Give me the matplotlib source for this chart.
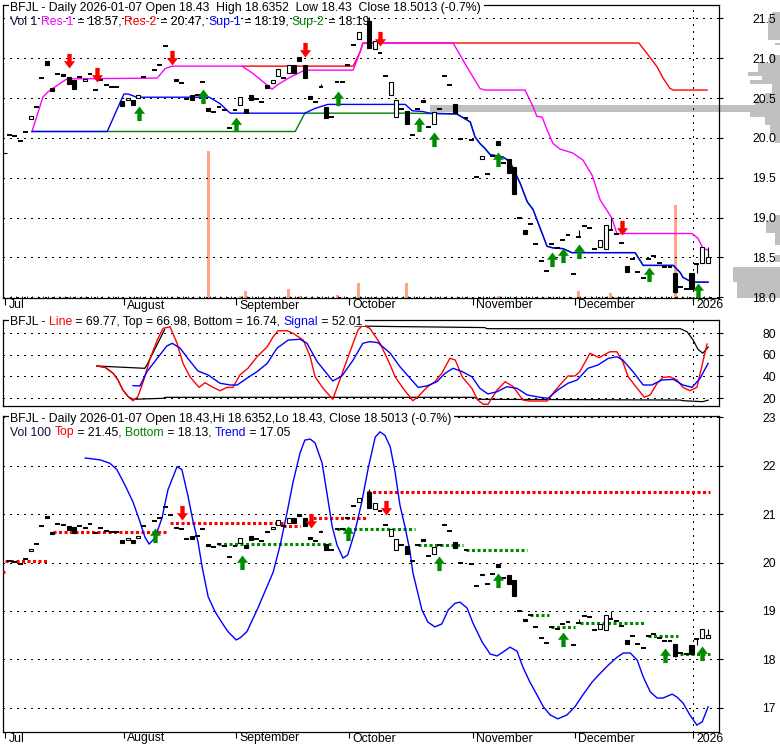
import numpy as np
import matplotlib
matplotlib.use("Agg")
import matplotlib.pyplot as plt
from matplotlib.path import Path
from matplotlib.patches import Rectangle
import matplotlib.transforms as mtrans

nan = np.nan

# ------------------------------------------------------------------ data
months = ["Jul", "August", "September", "October", "November", "December", "2026"]
month_first_day = [0, 22, 43, 64, 87, 106, 128]

open_ = [20.04, 20.02, 19.96, 20.07, 20.24, 20.39, 20.75, 20.96, 20.63, 20.80,
         20.80, 20.76, 20.73, 20.76, 20.71, 20.80, 20.60, 20.72, 20.66, 20.64,
         20.64, 20.46, 20.47, 20.47, 20.50, 20.76, nan, 20.85, 20.91, 21.15,
         20.99, 20.74, 20.69, 20.49, 20.54, 20.54, 20.70, 20.38, 20.32, 20.39,
         20.35, 20.12, 20.35, 20.41, 20.36, 20.54, 20.49, 20.45, 20.66, 20.69,
         20.78, 20.75, 20.81, 20.92, 21.01, 20.91, 20.52, 20.45, 20.64, 20.39,
         20.26, 20.70, 20.70, 20.91, 21.17, 21.24, nan, 21.46, 21.11, 21.06,
         20.77, 20.54, 20.26, 20.36, 20.34, 20.04, 20.36, 20.48, 20.14, 20.18,
         20.36, 20.78, 20.66, 20.43, 19.98, 20.25, 19.97, 19.51, 19.74, 19.55,
         19.77, 19.96, 19.68, 19.74, 19.63, 19.00, 18.84, 18.92, 18.67, 18.45,
         18.33, 18.67, 18.62, 18.72, 18.78, 18.29, 18.76, 18.90, 18.87, 18.61,
         18.63, 18.61, 18.84, 18.79, 18.68, 18.39, 18.48, 18.32, 18.24, 18.48,
         18.52, 18.43, 18.38, 18.38, 18.31, 18.13, 18.11, 18.30, 18.42, 18.43,
         18.43]
close = [20.04, 20.02, 19.96, 20.07, 20.28, 20.39, 20.75, 20.92, 20.59, 20.80,
         20.77, 20.68, 20.61, 20.76, 20.74, 20.80, 20.60, 20.72, 20.66, 20.64,
         20.64, 20.40, 20.50, 20.41, 20.54, 20.76, nan, 20.85, 20.91, 21.15,
         20.99, 20.71, 20.69, 20.49, 20.48, 20.54, 20.70, 20.34, 20.32, 20.39,
         20.35, 20.12, 20.35, 20.51, 20.31, 20.47, 20.49, 20.45, 20.62, 20.73,
         20.87, 20.75, 20.91, 20.82, 20.96, 20.75, 20.49, 20.45, 20.64, 20.25,
         20.26, 20.70, 20.70, 20.91, 21.17, 21.33, nan, 21.13, 21.22, 21.06,
         20.77, 20.70, 20.48, 20.36, 20.17, 20.04, 20.36, 20.45, 20.14, 20.32,
         20.36, 20.78, 20.66, 20.31, 19.98, 20.25, 19.97, 19.51, 19.77, 19.55,
         19.77, 19.91, 19.68, 19.56, 19.30, 19.00, 18.80, 18.92, 18.67, 18.45,
         18.33, 18.67, 18.62, 18.72, 18.78, 18.29, 18.76, 18.90, 18.87, 18.61,
         18.72, 18.91, 18.84, 18.79, 18.68, 18.32, 18.48, 18.32, 18.24, 18.48,
         18.52, 18.43, 18.38, 18.38, 18.07, 18.13, 18.11, 18.10, 18.42, 18.63,
         18.5013]
high_wick = {58: 20.67, 67: 21.52, 106: 18.84, 111: 18.91, 112: 18.99, 129: 18.63, 130: 18.6352}
low_wick = {124: 18.05, 128: 18.30}
volume = {8: 100, 10: 100, 11: 100, 14: 100, 21: 100, 23: 100, 24: 100, 37: 14700,
          43: 250, 44: 700, 47: 100, 52: 950, 54: 250, 61: 300, 65: 1550, 67: 100,
          74: 1550, 91: 250, 106: 750, 111: 100, 112: 500, 113: 100, 124: 9300, 127: 100}

# support / resistance (panel 1)
res1_d = [4.2, 6.2, 7.2, 8.5, 9.8, 10.7, 27.5, 29.0, 30.3, 43.3, 45.3, 48.0, 48.9, 49.8, 52.2,
          55.0, 64.0, 65.3, 65.8, 82.6, 85.2, 87.6, 88.5, 96.0, 97.5, 98.2, 99.2, 100.1, 101.2,
          102.5, 104.9, 106.8, 108.5, 110.0, 112.2, 113.1, 127.1, 128.2, 129.1, 130.1]
res1_v = [20.08, 20.51, 20.58, 20.64, 20.70, 20.74, 20.75, 20.87, 20.90, 20.90, 20.81, 20.66,
          20.61, 20.66, 20.76, 20.85, 20.85, 21.08, 21.19, 21.19, 20.89, 20.62, 20.60, 20.60,
          20.39, 20.27, 20.26, 20.10, 19.93, 19.86, 19.81, 19.72, 19.53, 19.22, 18.99, 18.80,
          18.80, 18.74, 18.62, 18.59]
res2_d = [43.3, 64.0, 65.3, 65.8, 117.2, 118.7, 120.6, 121.7, 123.0, 123.6, 129.9]
res2_v = [20.90, 20.90, 21.08, 21.19, 21.19, 21.06, 20.89, 20.75, 20.62, 20.60, 20.60]
sup1_d = [4.2, 18.2, 21.3, 22.1, 23.7, 37.2, 39.2, 41.1, 55.0, 56.9, 59.3, 73.7, 75.0, 77.0,
          78.3, 83.3, 85.8, 86.7, 87.6, 88.5, 89.5, 91.9, 93.2, 95.1, 96.4, 97.5, 100.1, 101.2,
          103.1, 104.7, 116.5, 118.0, 123.6, 124.9, 125.4, 127.1, 130.1]
sup1_v = [20.08, 20.08, 20.55, 20.55, 20.51, 20.51, 20.43, 20.31, 20.31, 20.37, 20.42, 20.42,
          20.34, 20.33, 20.31, 20.30, 20.20, 20.01, 19.93, 19.87, 19.79, 19.76, 19.70, 19.43,
          19.20, 19.10, 18.64, 18.62, 18.61, 18.56, 18.56, 18.40, 18.40, 18.31, 18.25, 18.19,
          18.19]
sup2_d = [4.2, 53.2, 55.0, 73.8, 83.3, 85.8, 86.7, 87.6, 88.5, 89.5, 91.9, 93.2, 95.1, 96.4,
          97.5, 100.1, 101.2, 103.1, 104.7, 116.5, 118.0, 123.6, 124.9, 125.4, 127.1, 130.1]
sup2_v = [20.08, 20.08, 20.31, 20.31, 20.30, 20.20, 20.01, 19.93, 19.87, 19.79, 19.76, 19.70,
          19.43, 19.20, 19.10, 18.64, 18.62, 18.61, 18.56, 18.56, 18.40, 18.40, 18.31, 18.25,
          18.19, 18.19]
p1_down_d = [11.1, 16.3, 30.3, 55.0, 69.0, 114.1]
p1_down_v = [20.88, 20.70, 20.91, 21.01, 21.15, 18.78]
p1_up_d = [24.1, 36.0, 42.2, 61.2, 76.3, 79.1, 91.0, 101.0, 103.1, 106.1, 119.1, 128.2]
p1_up_v = [20.40, 20.61, 20.26, 20.59, 20.26, 20.07, 19.82, 18.57, 18.62, 18.67, 18.38, 18.18]

# volume-at-price profile
profile_lo = [21.50, 21.23, 21.16, 20.94, 20.83, 20.78, 20.73, 20.68, 20.56, 20.47, 20.41,
              20.32, 20.26, 20.16, 20.04, 19.94, 18.97, 18.81, 18.66, 18.44, 18.19, 17.99]
profile_hi = [21.58, 21.50, 21.19, 21.04, 20.94, 20.83, 20.78, 20.73, 20.68, 20.56, 20.47,
              20.41, 20.32, 20.26, 20.16, 20.04, 19.03, 18.97, 18.81, 18.53, 18.38, 18.19]
profile_vol = [800, 1200, 500, 1000, 2200, 3200, 1800, 3000, 800, 1500, 2500,
               35000, 3000, 1500, 1000, 500, 500, 1400, 500, 500, 4700, 4300]

# oscillator (panel 2)
line_d = [16.3, 17.8, 19.3, 20.2, 21.1, 22.1, 23.0, 23.9, 24.9, 26.2, 27.5, 28.6, 29.9, 31.2,
          32.3, 33.6, 35.3, 36.4, 37.7, 39.2, 40.5, 41.6, 42.9, 44.4, 46.1, 48.0, 49.1, 50.0,
          51.7, 52.8, 54.7, 56.0, 56.9, 58.4, 60.2, 61.5, 63.4, 64.9, 65.8, 67.1, 69.0, 70.9,
          71.8, 73.3, 75.1, 76.1, 77.7, 79.2, 80.5, 82.0, 83.0, 84.3, 86.1, 87.2, 88.2, 89.1,
          90.8, 92.3, 93.8, 95.6, 96.9, 100.1, 101.2, 102.5, 104.0, 105.3, 106.2, 108.1, 109.8,
          111.8, 113.1, 114.2, 115.2, 116.9, 118.2, 119.3, 120.6, 121.7, 123.0, 124.3, 125.4,
          126.7, 128.0, 128.9, 129.9]
line_v = [49.5, 48.3, 42.8, 36.6, 27.4, 21.2, 17.5, 21.2, 35.0, 56.6, 73.5, 84.3, 85.8, 70.5,
          52.0, 39.6, 29.8, 34.1, 30.4, 26.7, 29.8, 29.8, 41.2, 47.4, 58.1, 67.3, 76.6, 82.1,
          82.1, 79.7, 73.5, 58.1, 39.6, 28.9, 18.8, 36.6, 62.7, 82.8, 87.4, 84.3, 70.5, 50.5,
          39.6, 28.9, 17.5, 21.2, 29.8, 35.0, 42.8, 56.6, 55.1, 39.6, 28.9, 18.1, 14.2, 14.2,
          27.4, 35.0, 30.4, 18.1, 17.2, 17.2, 24.3, 32.0, 40.3, 40.3, 44.3, 61.3, 57.2, 62.7,
          62.7, 53.5, 39.6, 28.9, 20.6, 22.8, 33.6, 39.1, 39.6, 36.6, 29.8, 26.7, 29.8, 48.9,
          69.8]
signal_d = [23.0, 24.3, 25.6, 27.5, 29.3, 30.3, 31.8, 33.2, 35.1, 37.0, 39.2, 41.1, 42.4, 44.2,
            46.1, 48.0, 49.8, 51.9, 54.1, 55.4, 57.3, 58.8, 60.2, 61.9, 64.0, 65.8, 67.1, 68.6,
            70.9, 72.7, 74.6, 76.1, 77.7, 79.6, 81.1, 82.6, 84.3, 86.1, 87.6, 89.1, 90.8, 92.6,
            94.5, 96.4, 98.8, 100.3, 102.1, 104.0, 105.7, 107.7, 109.6, 111.5, 113.1, 114.2,
            116.1, 118.0, 119.6, 121.5, 123.6, 125.4, 127.1, 128.6, 130.1]
signal_v = [31.4, 31.1, 44.3, 56.6, 68.0, 70.5, 65.9, 56.6, 44.9, 41.2, 33.6, 32.0, 32.0, 38.2,
            44.3, 52.0, 65.9, 73.5, 74.2, 70.5, 53.5, 44.3, 35.7, 40.3, 55.1, 70.5, 72.0, 71.1,
            61.3, 48.9, 38.2, 29.8, 31.1, 35.0, 42.8, 47.4, 44.3, 39.6, 28.9, 23.7, 25.8, 30.4,
            28.9, 22.8, 20.6, 19.7, 27.4, 33.6, 36.6, 47.4, 50.5, 56.6, 58.1, 55.1, 44.3, 32.0,
            32.0, 36.6, 37.2, 32.0, 29.8, 38.2, 52.0]
band_top_d = [16.3, 25.2, 25.6, 28.9, nan, 64.3, 70.9, 88.5, 88.9, 124.9, 126.2, 127.3, 128.2,
              129.1, 130.1]
band_top_v = [49.5, 47.4, 50.5, 83.4, nan, 86.5, 86.0, 85.0, 84.0, 84.0, 81.0, 73.5, 65.0,
              61.3, 67.0]
band_bot_d = [16.3, 17.8, 19.3, 20.2, 21.1, 22.1, 23.0, 28.6, 29.0, 86.6, 87.2, 124.9, 125.4,
              129.1, 130.1]
band_bot_v = [49.5, 48.3, 42.8, 36.6, 27.4, 21.2, 18.8, 19.7, 20.6, 20.6, 18.8, 18.1, 17.5,
              16.6, 18.0]

# trend panel (panel 3)
trend_d = [14.1, 16.9, 18.7, 20.0, 21.5, 23.0, 24.3, 25.2, 26.0, 27.1, 28.4, 29.5, 31.2, 32.1,
           33.2, 34.2, 35.1, 35.9, 37.0, 38.3, 39.6, 40.7, 42.2, 42.9, 44.2, 46.1, 48.1, 49.1,
           50.4, 51.7, 52.8, 54.1, 55.0, 56.0, 56.9, 58.2, 59.1, 60.1, 61.0, 62.1, 63.0, 64.3,
           65.6, 66.8, 68.1, 69.0, 69.9, 70.9, 71.8, 72.7, 73.7, 74.6, 75.1, 75.9, 76.8, 77.9,
           79.2, 80.5, 81.7, 83.0, 83.9, 85.2, 86.3, 88.0, 89.5, 90.8, 91.9, 93.2, 94.5, 95.6,
           96.9, 98.2, 99.4, 100.7, 102.1, 103.8, 105.3, 106.8, 108.5, 110.0, 111.5, 113.1, 114.3,
           115.6, 116.9, 118.0, 119.3, 120.6, 121.7, 123.4, 124.3, 125.4, 126.7, 128.0, 129.0,
           130.1]
trend_v = [22.16, 22.12, 22.05, 21.92, 21.60, 21.25, 20.84, 20.53, 20.38, 20.51, 20.92, 21.50,
           21.98, 21.92, 21.39, 20.84, 20.43, 19.89, 19.29, 18.98, 18.75, 18.57, 18.40, 18.44,
           18.57, 19.02, 19.54, 19.80, 20.36, 21.04, 21.66, 22.26, 22.53, 22.55, 22.47, 22.06,
           21.44, 20.74, 20.36, 20.09, 20.16, 20.63, 21.25, 21.95, 22.59, 22.70, 22.63, 22.39,
           21.87, 21.19, 20.71, 20.22, 19.80, 19.43, 19.02, 18.77, 18.67, 18.73, 19.02, 19.16,
           19.18, 19.06, 18.75, 18.36, 18.11, 18.07, 18.15, 18.25, 18.17, 17.84, 17.53, 17.27,
           17.02, 16.85, 16.77, 16.85, 17.02, 17.27, 17.53, 17.71, 17.88, 18.04, 18.13, 18.13,
           17.98, 17.64, 17.33, 17.20, 17.20, 17.28, 17.22, 17.10, 16.85, 16.64, 16.71, 17.02]
top_start = [-1.2, -0.8, 8.1, 29.9, 50.9, 56.5, 66.6]
top_end = [-0.8, 7.4, 29.5, 50.9, 54.1, 66.6, 130.4]
top_val = [19.81, 20.04, 20.62, 20.81, 20.76, 20.91, 21.45]
bot_start = [38.8, 61.0, 76.1, 85.0, 96.9, 100.8, 106.2, 118.9, 124.9]
bot_end = [60.2, 75.5, 84.5, 96.4, 100.5, 105.3, 118.3, 124.5, 130.4]
bot_val = [20.38, 20.69, 20.36, 20.26, 18.92, 18.66, 18.76, 18.48, 18.11]
p3_down_d = [32.1, 56.1, 70.1]
p3_down_v = [20.88, 20.71, 20.98]
p3_up_d = [27.1, 43.3, 63.0, 80.0, 91.0, 103.1, 122.1, 129.0]
p3_up_v = [20.71, 20.16, 20.75, 20.14, 19.78, 18.56, 18.23, 18.28]

# ------------------------------------------------------------------ style
plt.rcParams['font.family'] = ['Liberation Sans', 'DejaVu Sans']
FS = 8.8
W, H = 780, 745
fig = plt.figure(figsize=(W / 100, H / 100), dpi=100)
fig.patch.set_facecolor('white')

MAG, RED, BLUE, GRN = '#ff00ff', '#ff0000', '#0000ff', '#008000'
AGRN = '#008c00'
DARK = '#101040'

n = len(close)
days = np.arange(n)
o_arr = np.array(open_, float)
c_arr = np.array(close, float)
month_ticks = [d - 0.75 for d in month_first_day]
xlim = (-1.21, 132.12)


def rect(top, bottom):
    return [3 / W, 1 - bottom / H, 716 / W, (bottom - top) / H]


ax_vp = fig.add_axes([0, 1 - 298 / H, 1, 293 / H], zorder=0)
ax_vol = fig.add_axes(rect(5, 298), zorder=0.5)
ax1 = fig.add_axes(rect(5, 298), zorder=1)
ax2 = fig.add_axes(rect(320, 406), zorder=1)
ax3 = fig.add_axes(rect(416, 732), zorder=1)

dot_style = (0, (1, 5))

for ax in (ax1, ax2, ax3):
    ax.set_facecolor('none')
    ax.set_xlim(*xlim)
    for s in ax.spines.values():
        s.set_linewidth(0.9)
        s.set_color('black')

ax1.set_ylim(17.991, 21.667)
ax2.set_ylim(12.6, 92.0)
ax3.set_ylim(16.498, 23.027)

levels1 = [18.0, 18.5, 19.0, 19.5, 20.0, 20.5, 21.0, 21.5]
levels2 = [20, 40, 60, 80]
levels3 = [17, 18, 19, 20, 21, 22, 23]
fmt1 = ['18.0', '18.5', '19.0', '19.5', '20.0', '20.5', '21.0', '21.5']

for ax, lv, labels in ((ax1, levels1, fmt1), (ax2, levels2, [str(v) for v in levels2]),
                       (ax3, levels3, [str(v) for v in levels3])):
    ax.set_yticks(lv)
    ax.tick_params(axis='y', left=False, right=True, labelleft=False, labelright=False,
                   direction='out', length=3, width=0.8)
    for v, lab in zip(lv, labels):
        ax.annotate(lab, xy=(1, v), xycoords=('axes fraction', 'data'), xytext=(41, -3.3),
                    textcoords='offset points', ha='right', va='baseline', fontsize=FS,
                    annotation_clip=False, color='black')
        ax.axhline(v, color='black', lw=0.75, ls=dot_style, antialiased=False, zorder=0.5)
    ax.axvline(month_ticks[-1], color='black', lw=0.75, ls=dot_style, antialiased=False,
               zorder=0.5)

# x ticks
ax1.set_xticks(month_ticks)
ax1.set_xticks(days + 0.25, minor=True)
ax1.tick_params(axis='x', which='major', direction='out', length=5, width=0.8,
                labelbottom=False)
ax1.tick_params(axis='x', which='minor', direction='in', length=1.5, width=0.6)
ax2.set_xticks([])
ax3.set_xticks(month_ticks)
ax3.tick_params(axis='x', which='major', direction='out', length=4, width=0.8,
                labelbottom=False)

for ax, base in ((ax1, 308.5), (ax3, 741.5)):
    tr = mtrans.blended_transform_factory(ax.transData, fig.transFigure)
    for t, lab in zip(month_ticks, months):
        ax.annotate(lab, xy=(t, 1 - base / H), xycoords=tr, xytext=(2.3, 0),
                    textcoords='offset points', ha='left', va='baseline', fontsize=FS,
                    annotation_clip=False)

# volume profile
ax_vp.set_xlim(78000, 0)
ax_vp.set_ylim(17.991, 21.667)
ax_vp.barh(profile_lo, profile_vol, height=np.array(profile_hi) - np.array(profile_lo),
           align='edge', color='#c0c0c0', linewidth=0)
ax_vp.axis('off')

# volume bars
ax_vol.set_xlim(*xlim)
ax_vol.set_ylim(0, 29300)
vd = list(volume.keys())
vv = list(volume.values())
ax_vol.bar(vd, vv, width=0.55, color='#ffa487', linewidth=0)
ax_vol.set_facecolor('none')
for s in ax_vol.spines.values():
    s.set_visible(False)
ax_vol.set_xticks([])
ax_vol.set_yticks([14500])
ax_vol.tick_params(axis='y', direction='in', length=3, width=0.8, labelleft=False)


def draw_candles(ax):
    hi = np.fmax(o_arr, c_arr)
    lo = np.fmin(o_arr, c_arr)
    for i, v in high_wick.items():
        ax.vlines(i, hi[i], v, color='black', lw=0.8, zorder=5)
    for i, v in low_wick.items():
        ax.vlines(i, v, lo[i], color='black', lw=0.8, zorder=5)
    dash = (o_arr == c_arr)
    ax.hlines(c_arr[dash], days[dash] - 0.45, days[dash] + 0.45, color='black', lw=1.4,
              zorder=5)
    up = c_arr > o_arr
    dn = c_arr < o_arr
    ax.bar(days[up], (c_arr - o_arr)[up], bottom=o_arr[up], width=0.75, color='white',
           edgecolor='black', linewidth=0.8, zorder=6)
    ax.bar(days[dn], (o_arr - c_arr)[dn], bottom=c_arr[dn], width=0.75, color='black',
           edgecolor='black', linewidth=0.8, zorder=6)


down_path = Path([(0, 0), (-0.38, 0.5), (-0.15, 0.5), (-0.15, 1), (0.15, 1), (0.15, 0.5),
                  (0.38, 0.5), (0, 0)], closed=True)
up_path = Path([(0, 0), (-0.38, -0.5), (-0.15, -0.5), (-0.15, -1), (0.15, -1), (0.15, -0.5),
                (0.38, -0.5), (0, 0)], closed=True)
ARROW_MS = 21

# panel 1
ax1.plot(res2_d, res2_v, color=RED, lw=1.0, zorder=3)
ax1.plot(res1_d, res1_v, color=MAG, lw=1.0, zorder=3.1)
ax1.plot(sup2_d, sup2_v, color=GRN, lw=1.0, zorder=3)
ax1.plot(sup1_d, sup1_v, color=BLUE, lw=1.0, zorder=3.1)
draw_candles(ax1)
ax1.plot(p1_down_d, p1_down_v, ls='none', marker=down_path, ms=ARROW_MS, color=RED,
         mec='none', zorder=8)
ax1.plot(p1_up_d, p1_up_v, ls='none', marker=up_path, ms=ARROW_MS, color=AGRN, mec='none',
         zorder=8)

# panel 2
ax2.plot(band_top_d, band_top_v, color='black', lw=0.9, zorder=3)
ax2.plot(band_bot_d, band_bot_v, color='black', lw=0.9, zorder=3)
ax2.plot(line_d, line_v, color=RED, lw=1.0, zorder=4)
ax2.plot(signal_d, signal_v, color=BLUE, lw=1.0, zorder=4)

# panel 3
ax3.hlines(top_val, top_start, top_end, colors=RED, lw=2.2, linestyles=[(0, (1, 0.8))],
           zorder=3)
ax3.hlines(bot_val, bot_start, bot_end, colors=AGRN, lw=2.2, linestyles=[(0, (1, 0.8))],
           zorder=3)
ax3.plot(trend_d, trend_v, color=BLUE, lw=1.0, zorder=4)
draw_candles(ax3)
ax3.plot(p3_down_d, p3_down_v, ls='none', marker=down_path, ms=ARROW_MS, color=RED,
         mec='none', zorder=8)
ax3.plot(p3_up_d, p3_up_v, ls='none', marker=up_path, ms=ARROW_MS, color=AGRN, mec='none',
         zorder=8)

# ------------------------------------------------------------------ titles
renderer = fig.canvas.get_renderer()


def measure(s):
    if not s:
        return 0.0
    t1 = fig.text(0, 0, s + '|', fontsize=FS)
    t2 = fig.text(0, 0, '|', fontsize=FS)
    w = t1.get_window_extent(renderer).width - t2.get_window_extent(renderer).width
    t1.remove()
    t2.remove()
    return w


def colored_line(x, base, parts, bg=False):
    full = ''
    for s, col in parts:
        xx = x + measure(full)
        fig.text(xx / W, 1 - base / H, s, color=col, fontsize=FS, ha='left', va='baseline',
                 zorder=5)
        full += s
    if bg:
        total = measure(full)
        fig.add_artist(Rectangle(((x - 1.5) / W, 1 - (base + 1) / H), (total + 4) / W,
                                 10 / H, transform=fig.transFigure, facecolor='white',
                                 edgecolor='none', zorder=4))


K = 'black'
colored_line(10.5, 10.5, [("BFJL - Daily 2026-01-07 Open 18.43  High 18.6352  Low 18.43  "
                           "Close 18.5013 (-0.7%)", K)], bg=True)
colored_line(10.5, 25, [("Vol 1 ", DARK), ("Res-1", MAG), (" = 18.57, ", K), ("Res-2", RED),
                        (" = 20.47, ", K), ("Sup-1", BLUE), (" = 18.19, ", K),
                        ("Sup-2", GRN), (" = 18.19", K)])
colored_line(10.5, 325, [("BFJL - ", K), ("Line", RED),
                         (" = 69.77, Top = 66.98, Bottom = 16.74, ", K), ("Signal", BLUE),
                         (" = 52.01", K)], bg=True)
colored_line(10.5, 421.7, [("BFJL - Daily 2026-01-07 Open 18.43,Hi 18.6352,Lo 18.43, "
                            "Close 18.5013 (-0.7%)", K)], bg=True)
colored_line(10.5, 435.5, [("Vol 100 ", DARK), ("Top", RED), (" = 21.45, ", K),
                           ("Bottom", GRN), (" = 18.13, ", K), ("Trend", BLUE),
                           (" = 17.05", K)])

fig.savefig('out.png', dpi=100, facecolor='white')
